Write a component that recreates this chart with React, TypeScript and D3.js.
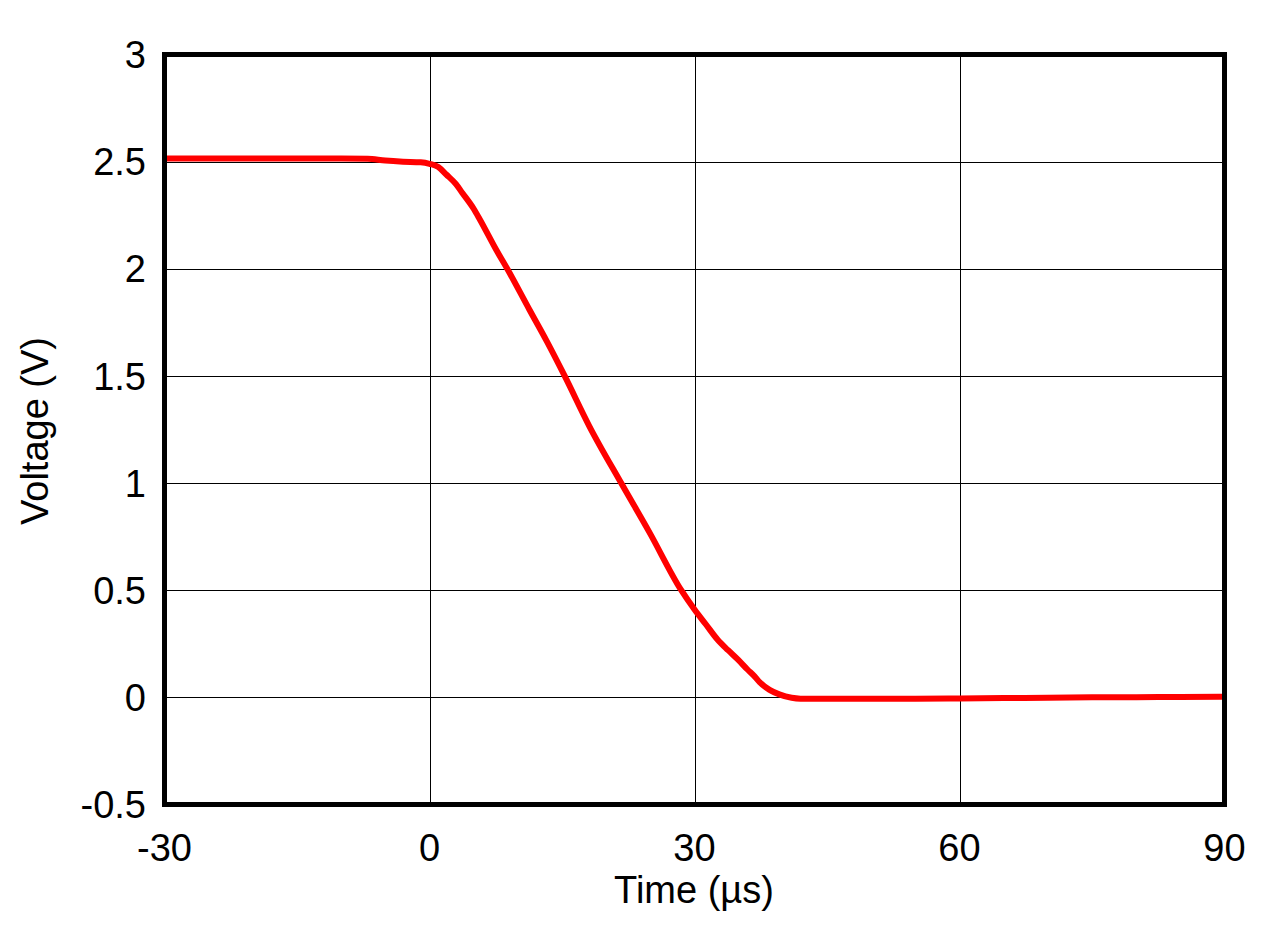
import React from "react";
import * as d3 from "d3";

const xTicks = [-30, 0, 30, 60, 90];
const yTicks = [-0.5, 0, 0.5, 1, 1.5, 2, 2.5, 3];
const yTickLabels = ["-0.5", "0", "0.5", "1", "1.5", "2", "2.5", "3"];

// Time (µs) and voltage (V)
const timeUs = [-30, -25, -20, -15, -10, -7, -5, -3, -1, 0, 1, 1.9, 3, 3.7, 5, 5.7, 7.6, 8.8, 11.3, 13.3, 15.3, 18.1, 21.7, 24.9, 28.5, 30, 31.3, 32.6, 33.8, 34.9, 36, 36.8, 37.4, 38.5, 39.6, 41, 42, 45, 50, 55, 60, 65, 70, 75, 80, 85, 90];
const voltage = [2.515, 2.515, 2.515, 2.515, 2.515, 2.513, 2.505, 2.5, 2.497, 2.49, 2.475, 2.44, 2.395, 2.355, 2.28, 2.23, 2.085, 2.0, 1.81, 1.66, 1.5, 1.265, 1.0, 0.77, 0.5, 0.41, 0.34, 0.27, 0.22, 0.177, 0.13, 0.098, 0.07, 0.035, 0.014, -0.002, -0.006, -0.007, -0.007, -0.006, -0.005, -0.003, -0.002, 0.0, 0.001, 0.002, 0.003];

const W = 1275;
const H = 927;
const left = 164.5, right = 1224.5, top = 54.5, bottom = 804.5;
const FONT = "'Liberation Sans', Arial, sans-serif";
const FS = 38;

export default function App() {
  const x = d3.scaleLinear().domain([-30, 90]).range([left, right]);
  const y = d3.scaleLinear().domain([-0.5, 3]).range([bottom, top]);
  const pts = timeUs.map((t, i) => [t, voltage[i]] as [number, number]);
  const line = d3
    .line<[number, number]>()
    .x((d) => x(d[0]))
    .y((d) => y(d[1]))
    .curve(d3.curveMonotoneX);

  return (
    <svg width={W} height={H} style={{ position: "absolute", left: 0, top: 0, background: "#fff" }}>
      <rect x={0} y={0} width={W} height={H} fill="#fff" />
      {xTicks.slice(1, -1).map((t) => (
        <line key={"gx" + t} x1={Math.round(x(t)) + 0.5} x2={Math.round(x(t)) + 0.5} y1={top} y2={bottom} stroke="#000" strokeWidth={1} />
      ))}
      {yTicks.slice(1, -1).map((t) => (
        <line key={"gy" + t} x1={left} x2={right} y1={Math.round(y(t)) + 0.5} y2={Math.round(y(t)) + 0.5} stroke="#000" strokeWidth={1} />
      ))}
      <path d={line(pts) || ""} fill="none" stroke="#ff0000" strokeWidth={6} strokeLinejoin="round" strokeLinecap="butt" />
      <rect x={left} y={top} width={right - left} height={bottom - top} fill="none" stroke="#000" strokeWidth={5} />
      {yTicks.map((t, i) => (
        <text key={"yl" + t} x={146} y={y(t)} dy="0.36em" textAnchor="end" fontFamily={FONT} fontSize={FS} fill="#000">
          {yTickLabels[i]}
        </text>
      ))}
      {xTicks.map((t) => (
        <text key={"xl" + t} x={x(t)} y={861} textAnchor="middle" fontFamily={FONT} fontSize={FS} fill="#000">
          {t}
        </text>
      ))}
      <text x={694} y={903} textAnchor="middle" fontFamily={FONT} fontSize={FS} fill="#000">
        Time (µs)
      </text>
      <text transform={`translate(48,431) rotate(-90)`} textAnchor="middle" fontFamily={FONT} fontSize={FS} fill="#000">
        Voltage (V)
      </text>
    </svg>
  );
}
